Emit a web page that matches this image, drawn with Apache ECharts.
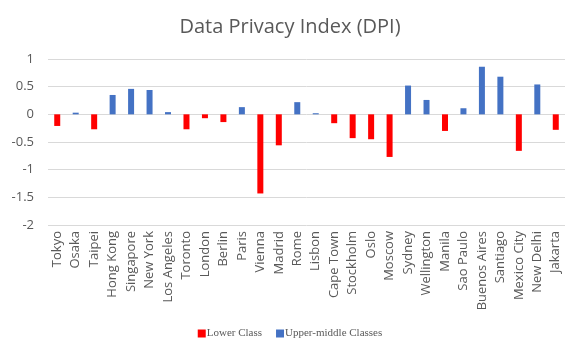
<!DOCTYPE html>
<html><head><meta charset="utf-8">
<script src="https://cdn.jsdelivr.net/npm/echarts@6/dist/echarts.min.js"></script>
<style>html,body{margin:0;padding:0;background:#fff}#c{width:580px;height:358px}</style>
</head><body><div id="c"></div>
<script>
const categories = ['Tokyo','Osaka','Taipei','Hong Kong','Singapore','New York','Los Angeles','Toronto','London','Berlin','Paris','Vienna','Madrid','Rome','Lisbon','Cape Town','Stockholm','Oslo','Moscow','Sydney','Wellington','Manila','Sao Paulo','Buenos Aires','Santiago','Mexico City','New Delhi','Jakarta'];
const lowerClass = [-0.21,'-',-0.27,'-','-','-','-',-0.27,-0.07,-0.14,'-',-1.43,-0.56,'-','-',-0.16,-0.43,-0.45,-0.77,'-','-',-0.30,'-','-','-',-0.66,'-',-0.28];
const upperMiddle = ['-',0.03,'-',0.35,0.46,0.44,0.04,'-','-','-',0.13,'-','-',0.22,0.02,'-','-','-','-',0.52,0.26,'-',0.11,0.86,0.68,'-',0.54,'-'];
const yTicks = {min:-2, max:1, interval:0.5};

const chart = echarts.init(document.getElementById('c'));
chart.setOption({
  animation:false,
  title:{text:'Data Privacy Index (DPI)',left:'center',top:12,textStyle:{fontFamily:'Open Sans',fontSize:20,fontWeight:'normal',color:'#595959'}},
  grid:{left:48,right:15,top:59,bottom:133},
  legend:{bottom:14,left:'center',icon:'rect',itemWidth:8,itemHeight:8,itemGap:14,
    textStyle:{fontFamily:'Liberation Serif',fontSize:11,color:'#595959',padding:[0,0,0,-4]},
    data:['Lower Class','Upper-middle Classes']},
  xAxis:{type:'category',data:categories,
    axisLine:{show:false,onZero:false},axisTick:{show:false},
    axisLabel:{rotate:90,interval:0,fontFamily:'Open Sans',fontSize:13,color:'#595959',margin:6}},
  yAxis:{type:'value',min:yTicks.min,max:yTicks.max,interval:yTicks.interval,
    axisLine:{show:false},axisTick:{show:false},
    splitLine:{lineStyle:{color:'#d9d9d9'}},
    axisLabel:{fontFamily:'Open Sans',fontSize:13,color:'#595959',margin:14}},
  series:[
    {name:'Lower Class',type:'bar',stack:'s',barWidth:6,data:lowerClass,itemStyle:{color:'#FF0000'}},
    {name:'Upper-middle Classes',type:'bar',stack:'s',barWidth:6,data:upperMiddle,itemStyle:{color:'#4472C4'}}
  ]
});
</script></body></html>
